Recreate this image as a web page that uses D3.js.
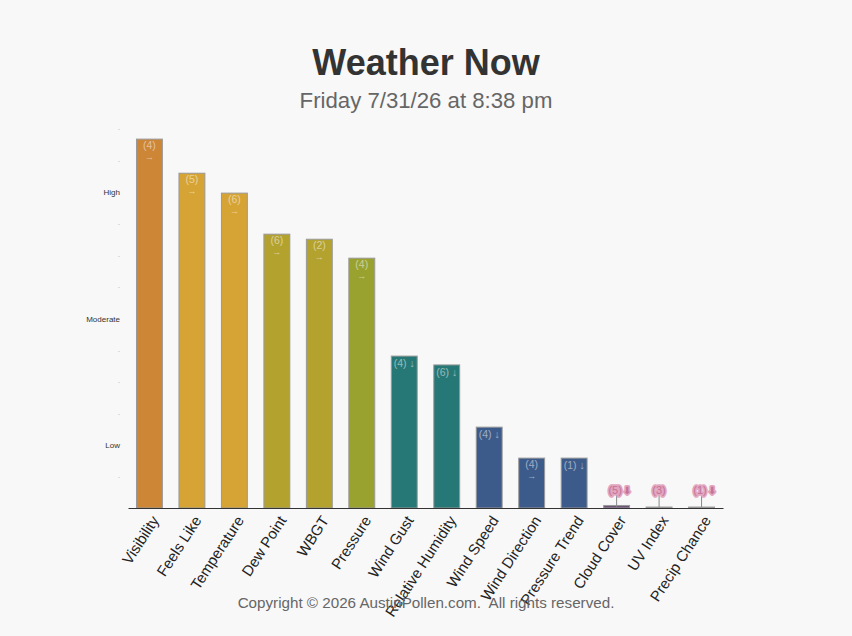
<!DOCTYPE html>
<html>
<head>
<meta charset="utf-8">
<script src="https://cdn.jsdelivr.net/npm/d3@7"></script>
<style>
  body { margin: 0; background: #f8f8f8; font-family: "Liberation Sans", Arial, sans-serif; }
  #chart svg { display: block; }
</style>
</head>
<body>
<div id="chart"></div>
<script>
// data
const categories = ["Visibility", "Feels Like", "Temperature", "Dew Point", "WBGT", "Pressure",
  "Wind Gust", "Relative Humidity", "Wind Speed", "Wind Direction", "Pressure Trend",
  "Cloud Cover", "UV Index", "Precip Chance"];
const values = [11.68, 10.6, 9.97, 8.67, 8.51, 7.91, 4.81, 4.53, 2.56, 1.58, 1.58, 0.08, 0.03, 0.03];
const ranks = ["(4)", "(5)", "(6)", "(6)", "(2)", "(4)", "(4)", "(6)", "(4)", "(4)", "(1)", "(5)", "(3)", "(1)"];
const trends = ["→", "→", "→", "→", "→", "→", "↓", "↓", "↓", "→", "↓", "⬇", "", "⬇"];
const barColors = ["#cd8536", "#d6a435", "#d6a435", "#b4a22f", "#b4a22f", "#99a22e",
  "#267876", "#267876", "#3c5b8a", "#3c5b8a", "#3c5b8a", "#6d5478", "#aaaaaa", "#aaaaaa"];
const yTicks = [1, 2, 3, 4, 5, 6, 7, 8, 9, 10, 11, 12];
const yTickLabels = {2: "Low", 6: "Moderate", 10: "High"};

const width = 852, height = 636;
const margin = {top: 129, right: 129, bottom: 128, left: 128};
const innerWidth = width - margin.left - margin.right;
const innerHeight = height - margin.top - margin.bottom;

const svg = d3.select("#chart")
    .append("svg")
    .attr("width", width)
    .attr("height", height);

svg.append("rect").attr("width", width).attr("height", height).attr("fill", "#f8f8f8");

svg.append("text")
    .attr("x", width / 2).attr("y", 75)
    .attr("text-anchor", "middle")
    .attr("font-size", 36).attr("font-weight", "bold").attr("fill", "#333")
    .text("Weather Now");

svg.append("text")
    .attr("x", width / 2).attr("y", 108)
    .attr("text-anchor", "middle")
    .attr("font-size", 22.2).attr("fill", "#666")
    .text("Friday 7/31/26 at 8:38 pm");

const g = svg.append("g")
    .attr("transform", `translate(${margin.left}, ${margin.top})`);

const x = d3.scaleBand()
    .domain(categories)
    .range([0, innerWidth])
    .paddingInner(0.39)
    .paddingOuter(0.2);

const y = d3.scaleLinear()
    .domain([0, 12])
    .range([innerHeight, 0]);

// y axis: only little tick labels, no line
const yAxis = g.append("g")
    .call(d3.axisLeft(y).tickValues(yTicks).tickSize(0).tickPadding(8)
        .tickFormat(d => yTickLabels[d] || "-"));
yAxis.select(".domain").remove();
yAxis.selectAll("text")
    .attr("font-family", "Liberation Sans, Arial, sans-serif")
    .attr("font-size", d => yTickLabels[d] ? 8 : 6)
    .attr("fill", d => yTickLabels[d] ? "#333" : "#aaa");

// bars
const bars = g.selectAll(".bar")
    .data(categories)
    .enter()
    .append("g")
    .attr("class", "bar");

bars.append("rect")
    .attr("x", d => x(d))
    .attr("y", (d, i) => y(values[i]))
    .attr("width", x.bandwidth())
    .attr("height", (d, i) => Math.max(innerHeight - y(values[i]), 0.5))
    .attr("fill", (d, i) => barColors[i])
    .attr("stroke", "#999")
    .attr("stroke-width", 1);

// labels inside tall bars, pink labels on a stem above tiny ones
bars.each(function (d, i) {
    const sel = d3.select(this);
    const cx = x(d) + x.bandwidth() / 2;
    const top = y(values[i]);
    if (values[i] < 0.5) {
        sel.append("line")
            .attr("x1", cx).attr("x2", cx)
            .attr("y1", innerHeight - 17).attr("y2", innerHeight - 1)
            .attr("stroke", "#888").attr("stroke-width", 1);
        const t = sel.append("text")
            .attr("x", cx + (trends[i] ? 3 : 0)).attr("y", innerHeight - 14)
            .attr("text-anchor", "middle")
            .attr("font-size", 11)
            .attr("fill", "#c27396")
            .attr("stroke", "#e3a6c0").attr("stroke-width", 3.5)
            .attr("stroke-linejoin", "round")
            .attr("paint-order", "stroke");
        t.append("tspan").text(ranks[i]);
        if (trends[i]) t.append("tspan").attr("font-size", 10).attr("dx", 1).text(trends[i]);
    } else if (trends[i] === "↓") {
        sel.append("text")
            .attr("x", cx).attr("y", top + 11)
            .attr("text-anchor", "middle")
            .attr("font-size", 10.5)
            .attr("fill", "rgba(255,255,255,0.5)")
            .text(`${ranks[i]} ${trends[i]}`);
    } else {
        sel.append("text")
            .attr("x", cx).attr("y", top + 10)
            .attr("text-anchor", "middle")
            .attr("font-size", 10.5)
            .attr("fill", "rgba(255,255,255,0.5)")
            .text(ranks[i]);
        sel.append("text")
            .attr("x", cx).attr("y", top + 21)
            .attr("text-anchor", "middle")
            .attr("font-size", 9)
            .attr("fill", "rgba(255,255,255,0.5)")
            .text(trends[i]);
    }
});

// x axis
const xAxis = g.append("g")
    .attr("transform", `translate(0, ${innerHeight})`)
    .call(d3.axisBottom(x).tickSize(0).tickPadding(8));
xAxis.select(".domain").attr("stroke", "#333").attr("stroke-width", 1.2);
xAxis.selectAll("text")
    .attr("font-family", "Liberation Sans, Arial, sans-serif")
    .attr("font-size", 15)
    .attr("fill", "#222")
    .attr("text-anchor", "end")
    .attr("dy", "0.35em")
    .attr("transform", "translate(-1, 5) rotate(-57)");

svg.append("text")
    .attr("x", width / 2).attr("y", 608)
    .attr("text-anchor", "middle")
    .attr("font-size", 15.2).attr("fill", "#666")
    .style("white-space", "pre")
    .text("Copyright © 2026 AustinPollen.com.  All rights reserved.");
</script>
</body>
</html>
